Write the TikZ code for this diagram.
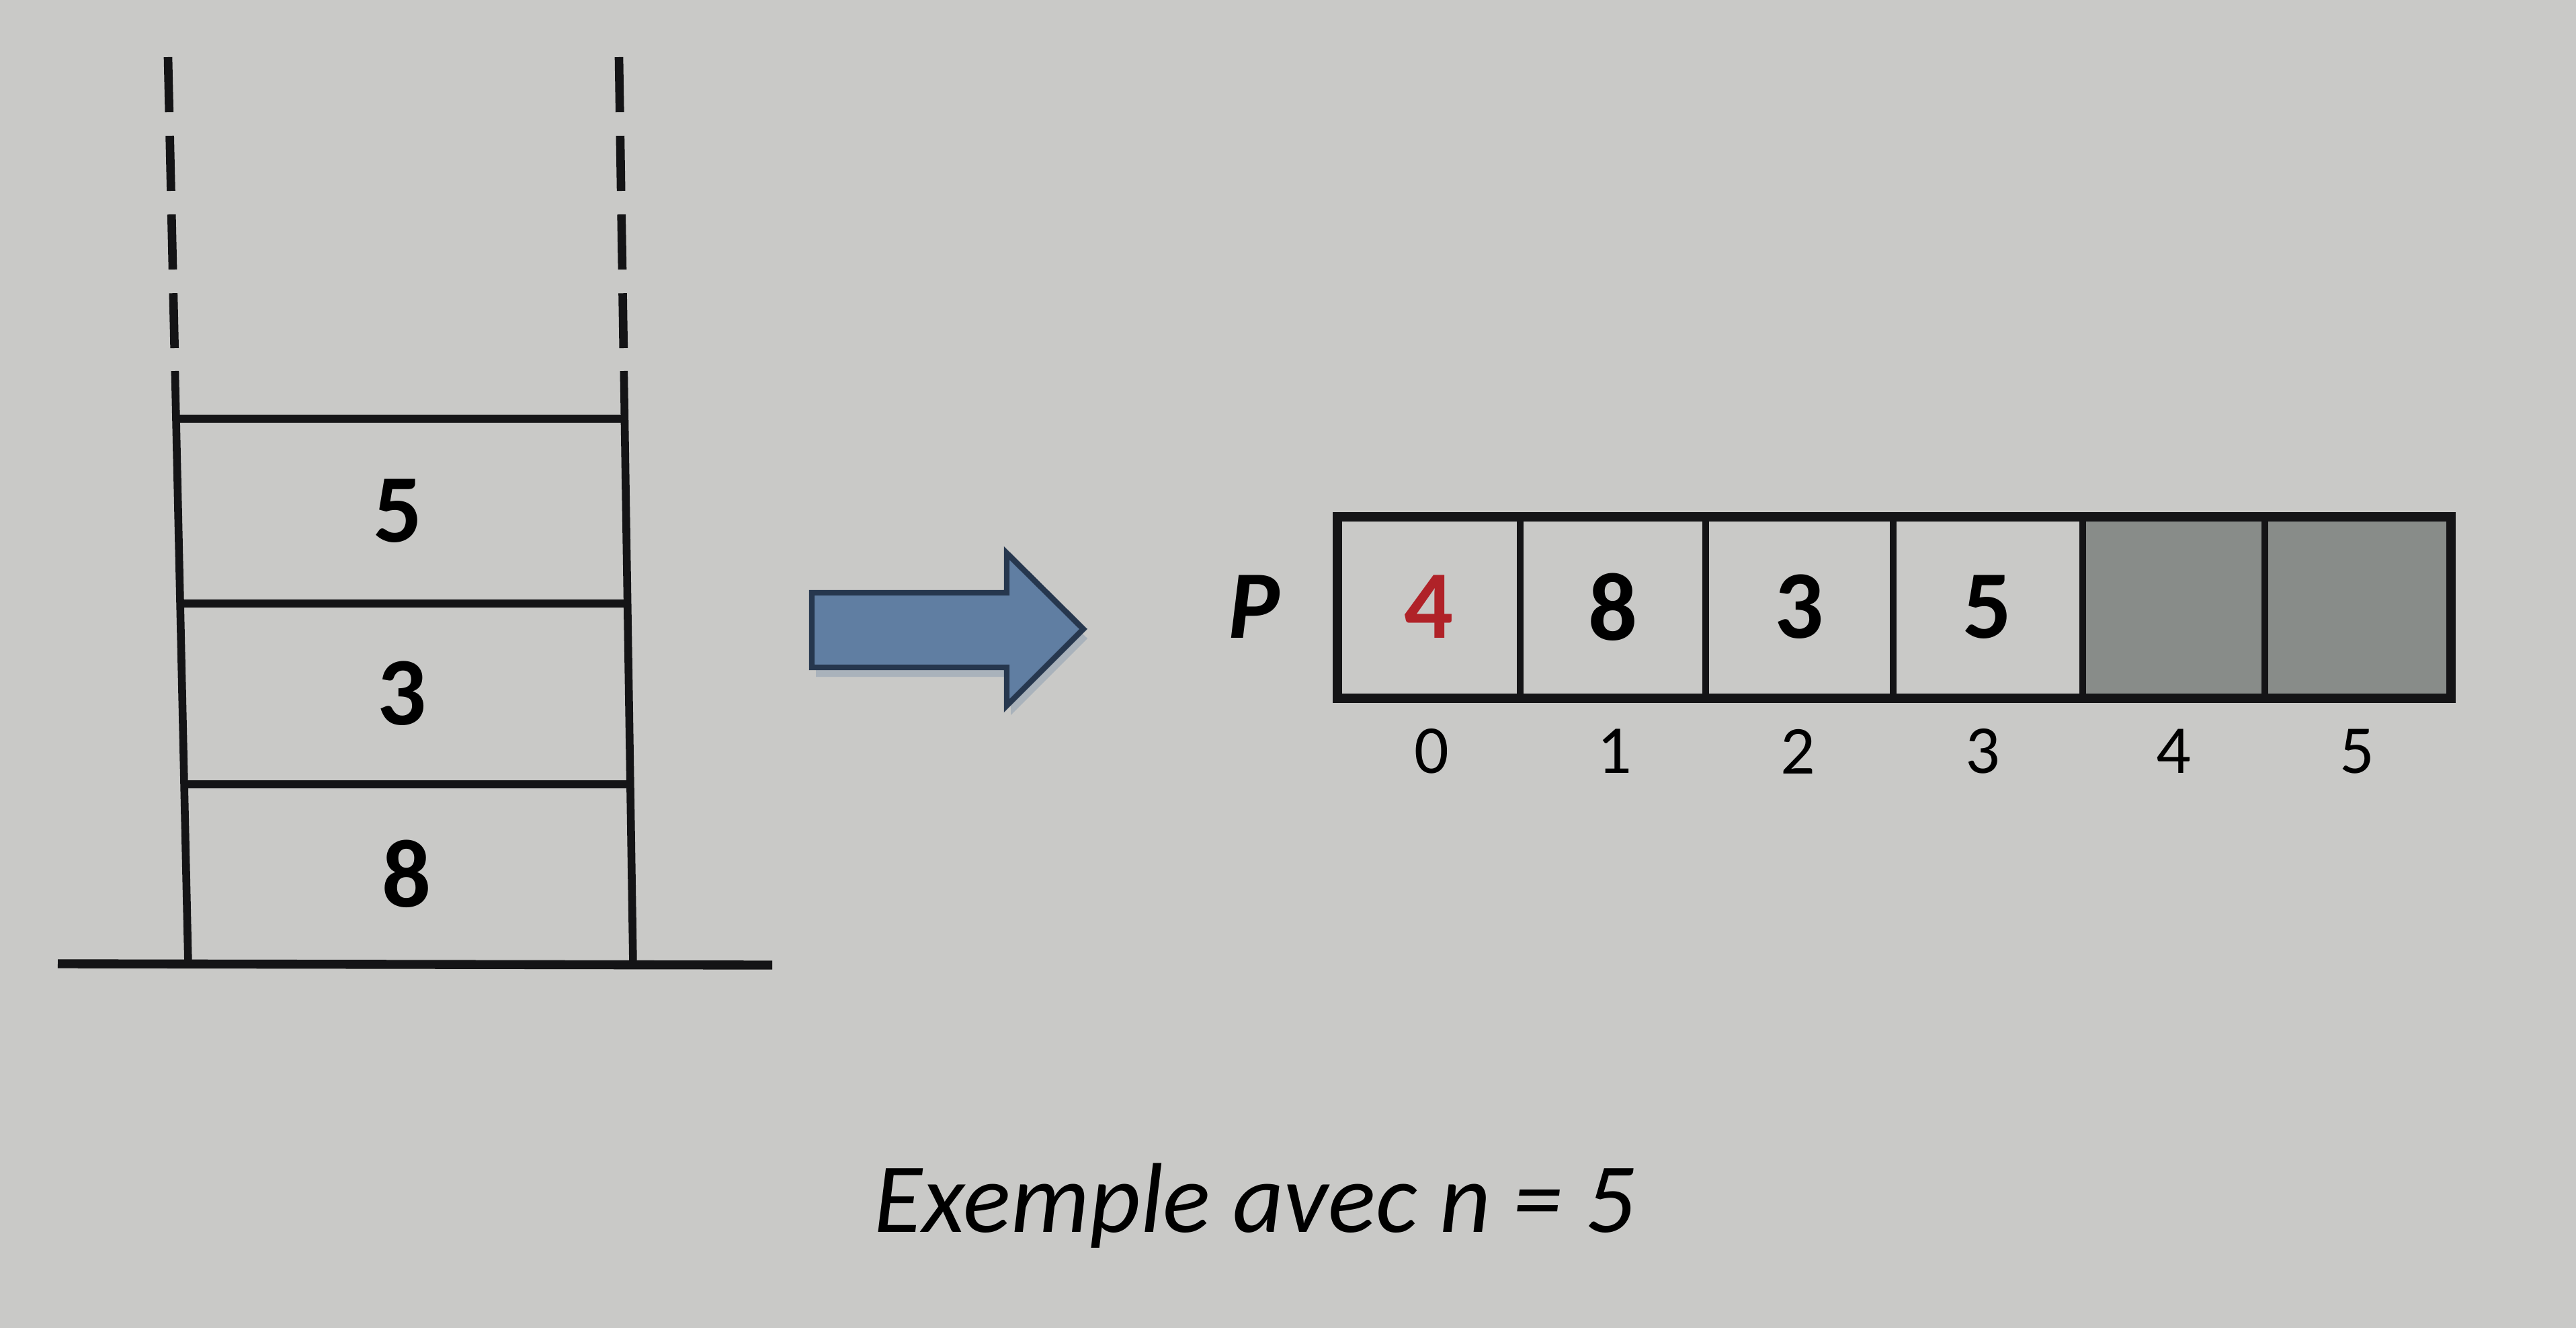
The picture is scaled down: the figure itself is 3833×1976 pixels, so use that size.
\documentclass[tikz,border=0pt]{standalone}
\usepackage{fontspec}
\setmainfont{Carlito}
\definecolor{paper}{RGB}{201,201,199}
\definecolor{ink}{RGB}{20,20,22}
\definecolor{cellgray}{RGB}{136,140,137}
\definecolor{redval}{RGB}{176,34,40}
\definecolor{arrowfill}{RGB}{96,126,162}
\definecolor{arrowedge}{RGB}{38,55,78}
\begin{document}
\begin{tikzpicture}[x=0.01cm,y=-0.01cm,
  wall/.style={ink, line width=3.3pt},
  dashwall/.style={ink, line width=3.6pt, dash pattern=on 23.3pt off 10pt},
  shelf/.style={ink, line width=3.3pt},
  ground/.style={ink, line width=3.8pt},
  arrframe/.style={ink, line width=4.2pt, line join=miter},
  arrdiv/.style={ink, line width=3.1pt},
  bigdigit/.style={inner sep=0pt, font=\fontsize{41}{48}\selectfont\bfseries},
  idxlabel/.style={inner sep=0pt, font=\fontsize{29}{35}\selectfont},
  caption/.style={inner sep=0pt, anchor=base west, font=\fontsize{42}{50}\selectfont\itshape},
  bluearrow/.style={fill=arrowfill, draw=arrowedge, line width=2.4pt, line join=miter},
]
\fill[paper] (0,0) rectangle (3833,1976);
\useasboundingbox (0,0) rectangle (3833,1976);

% ---------- stack ----------
\coordinate (LT) at (250,85);
\coordinate (LDe) at (259.7,518);
\coordinate (LS) at (260.4,552);
\coordinate (LB) at (280,1434);
\coordinate (RT) at (921,85);
\coordinate (RDe) at (927.8,518);
\coordinate (RS) at (928.3,552);
\coordinate (RB) at (942,1434);
\coordinate (H1l) at (262,623);   \coordinate (H1r) at (929.4,623);
\coordinate (H2l) at (268.1,898); \coordinate (H2r) at (933.7,898);
\coordinate (H3l) at (274.1,1167);\coordinate (H3r) at (937.9,1167);
\coordinate (G1) at (86,1434);
\coordinate (G2) at (1149,1436);

\draw[dashwall] (LT) -- (LDe);
\draw[dashwall] (RT) -- (RDe);
\draw[wall] (LS) -- (LB);
\draw[wall] (RS) -- (RB);
\draw[shelf] (H1l) -- (H1r);
\draw[shelf] (H2l) -- (H2r);
\draw[shelf] (H3l) -- (H3r);
\draw[ground] (G1) -- (G2);

\node[bigdigit] (s5) at (592,760) {5};
\node[bigdigit] (s3) at (598,1032) {3};
\node[bigdigit] (s8) at (605,1300) {8};

% ---------- arrow ----------
\fill[arrowfill, opacity=0.3]
  (1214,896) -- (1504,896) -- (1504,837) -- (1618,950) -- (1504,1064) -- (1504,1007) -- (1214,1007) -- cycle;
\draw[bluearrow]
  (1208,882) -- (1498,882) -- (1498,823) -- (1612,936) -- (1498,1050) -- (1498,993) -- (1208,993) -- cycle;

% ---------- array ----------
\fill[cellgray] (3099,769) rectangle (3647,1039);
\coordinate (A0t) at (1990,769);
\coordinate (A1t) at (2262,769); \coordinate (A1b) at (2262,1039);
\coordinate (A2t) at (2538,769); \coordinate (A2b) at (2538,1039);
\coordinate (A3t) at (2817,769); \coordinate (A3b) at (2817,1039);
\coordinate (A4t) at (3099,769); \coordinate (A4b) at (3099,1039);
\coordinate (A5t) at (3370,769); \coordinate (A5b) at (3370,1039);
\coordinate (A6b) at (3647,1039);
\draw[arrdiv] (A1t) -- (A1b);
\draw[arrdiv] (A2t) -- (A2b);
\draw[arrdiv] (A3t) -- (A3b);
\draw[arrdiv] (A4t) -- (A4b);
\draw[arrdiv] (A5t) -- (A5b);
\draw[arrframe] (A0t) rectangle (A6b);

\node[bigdigit, font=\fontsize{41}{48}\selectfont\bfseries\itshape] (P) at (1866,903) {P};
\node[bigdigit, text=redval] (v0) at (2126,903) {4};
\node[bigdigit] (v1) at (2400,903) {8};
\node[bigdigit] (v2) at (2677,903) {3};
\node[bigdigit] (v3) at (2957,903) {5};

\node[idxlabel] (i0) at (2130,1118) {0};
\node[idxlabel] (i1) at (2402,1118) {1};
\node[idxlabel] (i2) at (2675,1118) {2};
\node[idxlabel] (i3) at (2950,1118) {3};
\node[idxlabel] (i4) at (3234,1118) {4};
\node[idxlabel] (i5) at (3507,1118) {5};

% ---------- caption ----------
\node[caption] (cap) at (1300,1833) {Exemple avec n = 5};
\end{tikzpicture}
\end{document}
